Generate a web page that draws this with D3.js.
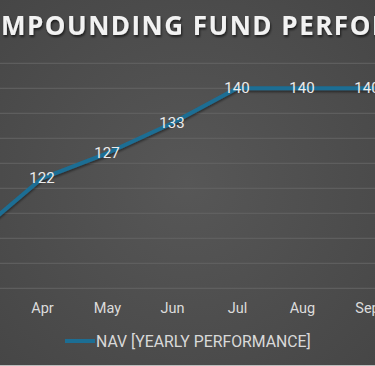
<!DOCTYPE html>
<html><head><meta charset="utf-8">
<script src="https://cdn.jsdelivr.net/npm/d3@7"></script>
<style>
html,body{margin:0;padding:0;background:#4b4b4b;overflow:hidden}
svg{display:block}
</style></head>
<body><svg id="c" width="375" height="366"></svg>
<script>
const title = "COMPOUNDING FUND PERFORMANCE";
const months = ["Mar","Apr","May","Jun","Jul","Aug","Sep","Oct"];
const nav = [111,122,127,133,140,140,140,140];
const yTicks = [100,105,110,115,120,125,130,135,140,145];
const seriesName = "NAV [YEARLY PERFORMANCE]";

const W = 375, H = 366;
const svg = d3.select("#c");
const defs = svg.append("defs");
const rg = defs.append("radialGradient").attr("id","bg").attr("cx","50%").attr("cy","50%").attr("r","75%");
rg.append("stop").attr("offset","0%").attr("stop-color","#575757");
rg.append("stop").attr("offset","100%").attr("stop-color","#454545");
const f = defs.append("filter").attr("id","sh").attr("filterUnits","userSpaceOnUse")
  .attr("x",-200).attr("y",0).attr("width",800).attr("height",60);
f.append("feDropShadow").attr("dx",1).attr("dy",2).attr("stdDeviation",1.2).attr("flood-color","#000").attr("flood-opacity",0.6);
const fl = defs.append("filter").attr("id","lsh").attr("x","-10%").attr("y","-50%").attr("width","120%").attr("height","200%");
fl.append("feDropShadow").attr("dx",0).attr("dy",2).attr("stdDeviation",1.2).attr("flood-color","#000").attr("flood-opacity",0.45);

svg.append("rect").attr("width",W).attr("height",H).attr("fill","url(#bg)");
svg.append("line").attr("x1",0).attr("x2",W).attr("y1",365.5).attr("y2",365.5).attr("stroke","#bdbdbd").attr("stroke-width",1);

const x = d3.scalePoint().domain(months).range([-23, -23 + 65*(months.length-1)]);
const y = d3.scaleLinear().domain([100,145]).range([288.3,63.3]);
const visible = d3.range(months.length).filter(i => x(months[i]) > 0 && x(months[i]) < W);

svg.append("g").selectAll("line").data(yTicks).join("line")
  .attr("x1",0).attr("x2",W)
  .attr("y1",d=>y(d)).attr("y2",d=>y(d))
  .attr("stroke","#636363").attr("stroke-width",1);

const xa = svg.append("g").attr("transform","translate(0,288.3)")
  .call(d3.axisBottom(x).tickSize(0).tickPadding(14)
    .tickValues(visible.map(i => months[i])));
xa.select(".domain").remove();
xa.selectAll("text").attr("fill","#dcdcdc").style("font-family","Roboto, 'Noto Sans', sans-serif").style("font-size","14.5px");

svg.append("path").datum(nav)
  .attr("fill","none").attr("stroke","#1c6e94").attr("stroke-width",4)
  .attr("stroke-linejoin","round").attr("filter","url(#lsh)")
  .attr("d", d3.line().x((d,i)=>x(months[i])).y(d=>y(d)));

svg.append("g").selectAll("text").data(visible).join("text")
  .attr("x",i=>x(months[i])).attr("y",i=>y(nav[i]))
  .attr("text-anchor","middle").attr("dominant-baseline","central")
  .attr("fill","#ececec").style("font-family","Roboto, 'Noto Sans', sans-serif").style("font-size","15px")
  .text(i=>nav[i]);

// title: the visible middle part "MPOUNDING FUND PERFOR" spans the frame
const tfont = "'Open Sans', 'DejaVu Sans', sans-serif";
const titleText = svg.append("text").attr("y",35).attr("fill","#f2f2f2")
  .style("font-family",tfont).style("font-weight","700")
  .style("font-size","26px")
  .attr("filter","url(#sh)");
const head = title.slice(0,2), mid = title.slice(2,23), tail = title.slice(23);
const t1 = titleText.append("tspan").text(head);
titleText.append("tspan").attr("x",1).attr("textLength",388).attr("lengthAdjust","spacing").text(mid);
titleText.append("tspan").text(tail);

const lg = svg.append("g");
lg.append("line").attr("x1",65).attr("x2",95).attr("y1",341).attr("y2",341)
  .attr("stroke","#1c6e94").attr("stroke-width",4);
const lt = lg.append("text").attr("x",96).attr("y",341).attr("dominant-baseline","central")
  .attr("fill","#d9d9d9").style("font-family","Roboto, 'Noto Sans', sans-serif").style("font-size","15px")
  .text(seriesName);

function layoutText() {
  const wco = t1.node().getComputedTextLength();
  t1.attr("x", 1 - wco - 3);
  lt.style("font-size","15px");
  const lw = lt.node().getComputedTextLength();
  lt.style("font-size",(15*215/lw)+"px");
}
layoutText();
if (document.fonts && document.fonts.load) {
  Promise.all([
    document.fonts.load("700 26px 'Open Sans'"),
    document.fonts.load("15px Roboto")
  ]).then(layoutText).catch(()=>{});
}
</script></body></html>
